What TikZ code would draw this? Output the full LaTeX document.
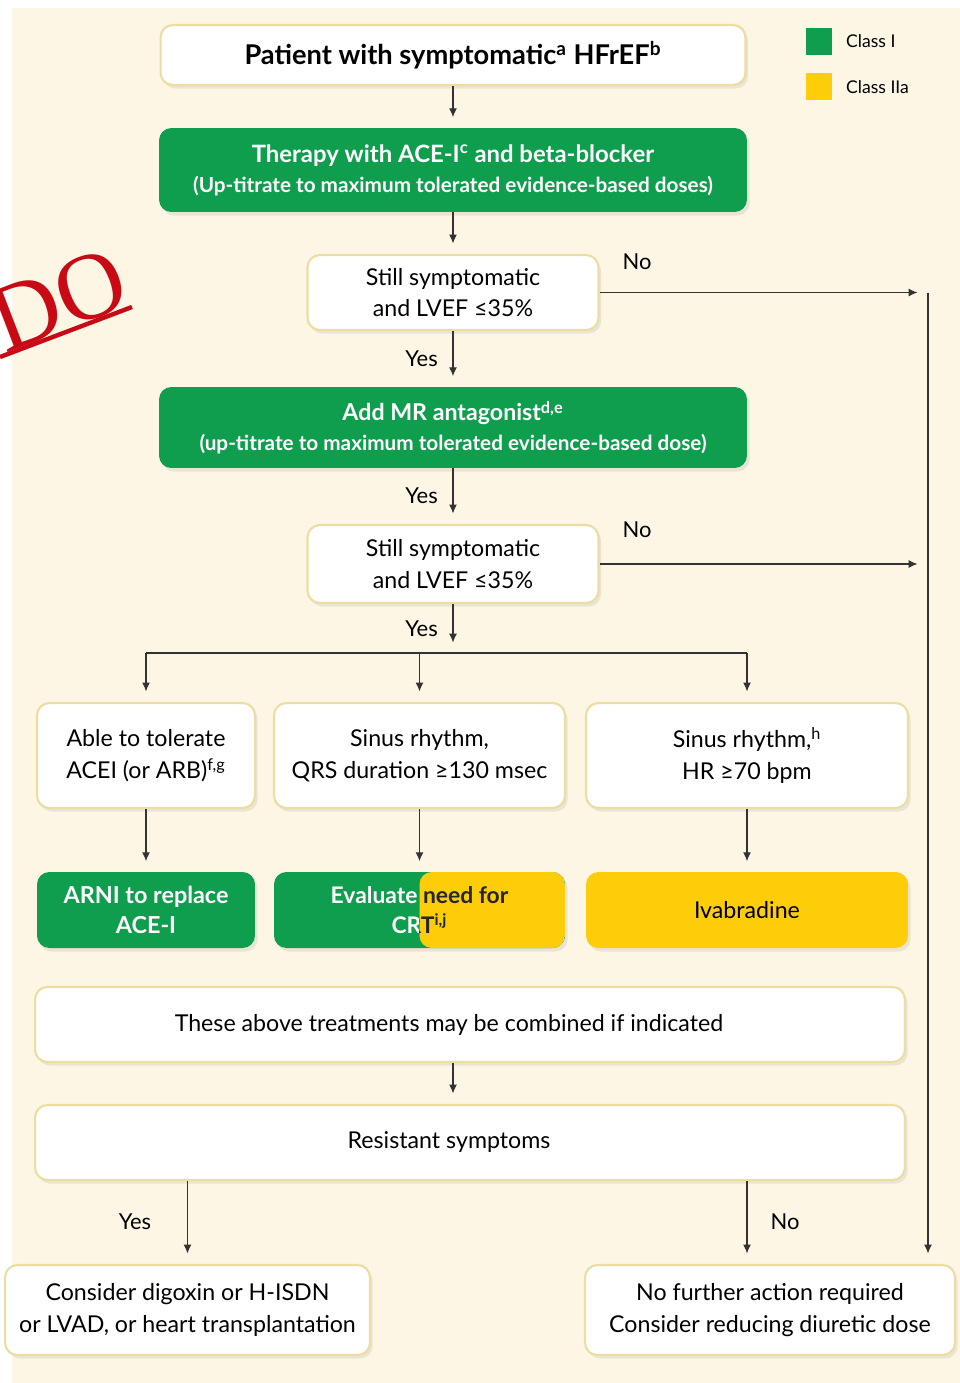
\documentclass[tikz,border=0pt]{standalone}
\usepackage{fontspec}
\setmainfont{Lato}
\newfontfamily\stampfont{Liberation Serif}
\usetikzlibrary{shapes.geometric, arrows.meta, positioning, calc, shadows}
\definecolor{classone}{RGB}{14,158,78}
\definecolor{classtwo}{RGB}{254,205,10}
\definecolor{cream}{RGB}{253,246,229}
\definecolor{boxedge}{RGB}{236,222,160}
\definecolor{stampred}{RGB}{200,10,20}

\tikzset{
  box/.style={rectangle, rounded corners=7pt, align=center,
    font=\fontsize{13.2}{18}\selectfont,
    drop shadow={shadow xshift=1.5pt, shadow yshift=-2pt, opacity=0.15}},
  whitebox/.style={box, fill=white, draw=boxedge, line width=1.2pt},
  greenbox/.style={box, fill=classone, text=white,
    font=\fontsize{11.8}{17}\selectfont\bfseries},
  yellowbox/.style={box, fill=classtwo, font=\fontsize{13.2}{17}\selectfont},
  arr/.style={-{Latex[length=5pt,width=4.5pt]}, draw=black!80, line width=0.6pt, shorten >=6pt},
  link/.style={draw=black!80, line width=0.6pt},
  lbl/.style={font=\fontsize{12.5}{14}\selectfont},
}

\begin{document}
\begin{tikzpicture}[x=0.02cm, y=-0.02cm]
    % Frame
    \useasboundingbox (0,0) rectangle (960,1383);
    \fill[cream] (12,8) rectangle (960,1383);
    % Stamp
    \node[text=stampred, rotate=21, font=\fontsize{54}{54}\selectfont\stampfont] (stamp) at (58,300) {DO};
    \draw[stampred, line width=2.5pt] (0,357) -- (132,307);
    % Legend
    \fill[classone] (806,28) rectangle (832,55);
    \fill[classtwo] (806,73) rectangle (832,100);
    \node[right, font=\fontsize{10}{12}\selectfont] (leg1) at (840,41) {Class I};
    \node[right, font=\fontsize{10}{12}\selectfont] (leg2) at (840,87) {Class IIa};
    % Main column
    \node[whitebox, minimum width=11.7cm, minimum height=1.2cm, font=\fontsize{15.5}{16}\selectfont\bfseries] (pat) at (453,55) {Patient with symptomatic\textsuperscript{a} HFrEF\textsuperscript{b}};
    \node[greenbox, minimum width=11.76cm, minimum height=1.68cm] (acei) at (453,170) {{\fontsize{13.6}{17}\selectfont Therapy with ACE-I\textsuperscript{c} and beta-blocker}\\(Up-titrate to maximum tolerated evidence-based doses)};
    \node[whitebox, minimum width=5.82cm, minimum height=1.5cm] (still1) at (453,292.5) {Still symptomatic\\and LVEF ≤35\%};
    \node[greenbox, minimum width=11.76cm, minimum height=1.62cm] (mra) at (453,427.5) {{\fontsize{13.2}{17}\selectfont Add MR antagonist\textsuperscript{d,e}}\\(up-titrate to maximum tolerated evidence-based dose)};
    \node[whitebox, minimum width=5.82cm, minimum height=1.56cm] (still2) at (453,564) {Still symptomatic\\and LVEF ≤35\%};
    % Branches
    \node[whitebox, minimum width=4.36cm, minimum height=2.1cm] (tol) at (146,755.5) {Able to tolerate\\ACEI (or ARB)\textsuperscript{f,g}};
    \node[whitebox, minimum width=5.82cm, minimum height=2.1cm] (qrs) at (419.5,755.5) {Sinus rhythm,\\QRS duration ≥130 msec};
    \node[whitebox, minimum width=6.44cm, minimum height=2.1cm] (hr) at (747,755.5) {Sinus rhythm,\textsuperscript{h}\\HR ≥70 bpm};
    % Treatments
    \node[greenbox, minimum width=4.36cm, minimum height=1.52cm, font=\fontsize{13.3}{17}\selectfont\bfseries] (arni) at (146,910) {ARNI to replace\\ACE-I};
    \node[greenbox, minimum width=5.82cm, minimum height=1.52cm,
      path picture={\fill[classtwo] (path picture bounding box.north) rectangle (path picture bounding box.south east);}] (crt) at (419.5,910) {};
    \begin{scope}
      \clip (crt.north west) rectangle (crt.south);
      \node[align=center, text=white, font=\fontsize{13}{17}\selectfont\bfseries] (crtl) at (crt) {Evaluate need for\\CRT\textsuperscript{i,j}};
    \end{scope}
    \begin{scope}
      \clip (crt.north) rectangle (crt.south east);
      \node[align=center, text=black!85, font=\fontsize{13}{17}\selectfont\bfseries] (crtr) at (crt) {Evaluate need for\\CRT\textsuperscript{i,j}};
    \end{scope}
    \node[yellowbox, minimum width=6.44cm, minimum height=1.52cm] (ivab) at (747,910) {Ivabradine};
    % Bottom part
    \node[whitebox, minimum width=17.4cm, minimum height=1.5cm] (comb) at (470,1024.5) {These above treatments may be combined if indicated\rule{0.84cm}{0pt}};
    \node[whitebox, minimum width=17.4cm, minimum height=1.5cm] (resi) at (470,1142.5) {Resistant symptoms\rule{0.84cm}{0pt}};
    \node[whitebox, minimum width=7.3cm, minimum height=1.8cm] (digo) at (187.5,1310) {Consider digoxin or H-ISDN\\or LVAD, or heart transplantation};
    \node[whitebox, minimum width=7.4cm, minimum height=1.8cm] (nofu) at (770,1310) {No further action required\\Consider reducing diuretic dose};
    % Coordinates
    \coordinate (rx) at (928,0);
    \coordinate (split) at (453,653);
    % Arrows
    \draw[arr] (pat) -- (acei);
    \draw[arr] (acei) -- (still1);
    \draw[arr] (still1) -- node[lbl, left, xshift=-5pt] (yes1) {Yes} (mra);
    \draw[arr] (mra) -- node[lbl, left, xshift=-5pt] (yes2) {Yes} (still2);
    \draw[arr] (still2) -- node[lbl, left, xshift=-5pt] (yes3) {Yes} (split);
    \draw[link] (tol.north |- split) -- (hr.north |- split);
    \foreach \n in {tol, qrs, hr} {
        \draw[arr] (\n.north |- split) -- (\n.north);
    }
    \draw[arr] (tol) -- (arni);
    \draw[arr] (qrs) -- (crt);
    \draw[arr] (hr) -- (ivab);
    \draw[arr] (comb.south -| still2) -- (resi.north -| still2);
    \draw[arr] (resi.south -| digo) -- (digo.north);
    \draw[arr] (resi.south -| hr) -- (nofu.north -| hr);
    % No branch
    \draw[arr] (still1.east) -- (still1.east -| rx);
    \draw[arr] (still2.east) -- (still2.east -| rx);
    \draw[arr] (still1.east -| rx) -- (nofu.north -| rx);
    % Labels
    \node[lbl] (no1) at (637,262) {No};
    \node[lbl] (no2) at (637,530) {No};
    \node[lbl] (yes4) at (135,1222) {Yes};
    \node[lbl] (no3) at (785,1222) {No};
\end{tikzpicture}
\end{document}
